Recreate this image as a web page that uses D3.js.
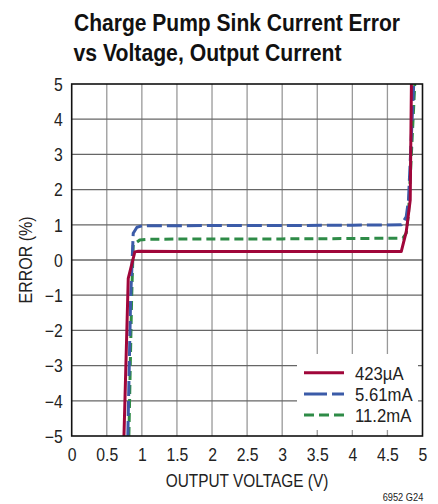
<!DOCTYPE html>
<html lang="en">

<head>
  <meta charset="UTF-8">
  <title>Charge Pump Sink Current Error</title>
  <script src="https://d3js.org/d3.v7.min.js"></script>
  <style>
    html,
    body {
      padding: 0;
      margin: 0;
      background: #fff;
    }

    text {
      font-family: "Liberation Sans Narrow", "Liberation Sans", Arial, sans-serif;
      fill: #222;
    }
  </style>
</head>

<body>
  <script>
    const width = 438;
    const height = 504;

    // curve data
    const series = ["423µA", "5.61mA", "11.2mA"];

    const v423 = [0.745, 0.806, 0.90, 0.95, 1.5, 2.5, 3.5, 4.5, 4.697, 4.768, 4.825, 4.842];
    const e423 = [-5, -0.52, 0.23, 0.25, 0.24, 0.24, 0.24, 0.24, 0.24, 0.80, 1.7, 5];

    const v561 = [0.80, 0.84, 0.877, 0.93, 1.0, 2.0, 3.0, 4.0, 4.70, 4.768, 4.80, 4.875];
    const e561 = [-5, -1.1, 0.76, 0.93, 0.97, 0.98, 0.98, 0.99, 1.0, 1.23, 1.7, 5];

    const v112 = [0.815, 0.854, 0.877, 0.97, 1.1, 2.0, 3.0, 4.0, 4.72, 4.768, 4.80, 4.89];
    const e112 = [-5, -1.1, 0.43, 0.57, 0.59, 0.60, 0.60, 0.61, 0.62, 0.76, 1.3, 5];

    const xTicks = [0, 0.5, 1, 1.5, 2, 2.5, 3, 3.5, 4, 4.5, 5];
    const yTicks = [-5, -4, -3, -2, -1, 0, 1, 2, 3, 4, 5];

    const pl = 71.7, pr = 422.5, pt = 84, pb = 436;

    const x = d3.scaleLinear().domain([0, 5]).range([pl, pr]);
    const y = d3.scaleLinear().domain([-5, 5]).range([pb, pt]);

    const svg = d3.select("body").append("svg")
      .attr("width", width)
      .attr("height", height);

    // title (condensed bold look)
    svg.append("text")
      .attr("x", 74).attr("y", 30.7)
      .attr("font-size", 23).attr("font-weight", "bold")
      .attr("textLength", 326).attr("lengthAdjust", "spacingAndGlyphs")
      .style("fill", "#111")
      .text("Charge Pump Sink Current Error");
    svg.append("text")
      .attr("x", 73.5).attr("y", 60.7)
      .attr("font-size", 23).attr("font-weight", "bold")
      .attr("textLength", 268).attr("lengthAdjust", "spacingAndGlyphs")
      .style("fill", "#111")
      .text("vs Voltage, Output Current");

    // grid
    svg.append("g").selectAll("line")
      .data(xTicks.slice(1, -1))
      .join("line")
      .attr("x1", d => x(d)).attr("x2", d => x(d))
      .attr("y1", pt).attr("y2", pb)
      .attr("stroke", "#999").attr("stroke-width", 1.3);

    svg.append("g").selectAll("line")
      .data(yTicks.slice(1, -1))
      .join("line")
      .attr("x1", pl).attr("x2", pr)
      .attr("y1", d => y(d)).attr("y2", d => y(d))
      .attr("stroke", "#666").attr("stroke-width", 1.3);

    // legend box hides the grid behind it
    svg.append("rect")
      .attr("x", 297).attr("y", 354)
      .attr("width", 121).attr("height", 76)
      .attr("fill", "#fff");

    // tick labels
    const gx = svg.append("g")
      .attr("transform", `translate(0,${pb})`)
      .call(d3.axisBottom(x).tickValues(xTicks).tickSize(0).tickFormat(d3.format("")));
    gx.attr("font-family", null).attr("font-size", null);
    gx.select(".domain").remove();
    gx.selectAll("text")
      .attr("y", 25).attr("dy", null)
      .attr("font-size", 17.5)
      .attr("transform", "scale(0.9,1)")
      .style("fill", "#222");

    const gy = svg.append("g")
      .attr("transform", `translate(${pl - 9},0)`)
      .call(d3.axisLeft(y).tickValues(yTicks).tickSize(0)
        .tickFormat(d => d < 0 ? "\u2212" + Math.abs(d) : String(d)));
    gy.attr("font-family", null).attr("font-size", null);
    gy.select(".domain").remove();
    gy.selectAll("text")
      .attr("x", 0).attr("dy", "0.36em")
      .attr("font-size", 17.5)
      .attr("transform", "scale(0.9,1)")
      .style("fill", "#222");

    svg.append("text")
      .attr("x", 165.7).attr("y", 487)
      .attr("font-size", 18)
      .attr("textLength", 162.6).attr("lengthAdjust", "spacingAndGlyphs")
      .text("OUTPUT VOLTAGE (V)");

    svg.append("text")
      .attr("transform", "translate(32,260) rotate(-90)")
      .attr("x", -43.5)
      .attr("font-size", 18)
      .attr("textLength", 87).attr("lengthAdjust", "spacingAndGlyphs")
      .text("ERROR (%)");

    svg.append("text")
      .attr("x", 382.7).attr("y", 500.5)
      .attr("font-size", 10.5)
      .attr("textLength", 40.6).attr("lengthAdjust", "spacingAndGlyphs")
      .text("6952 G24");

    // curves
    svg.append("clipPath").attr("id", "plot")
      .append("rect")
      .attr("x", pl).attr("y", pt)
      .attr("width", pr - pl).attr("height", pb - pt);

    const line = d3.line()
      .x(d => x(d[0]))
      .y(d => y(d[1]));

    const curves = [
      { name: series[2], v: v112, e: e112, color: "#2e8b47", dash: "9,5" },
      { name: series[1], v: v561, e: e561, color: "#3b5ba8", dash: "15,5" },
      { name: series[0], v: v423, e: e423, color: "#a0063a", dash: null }
    ];

    svg.append("g").attr("clip-path", "url(#plot)")
      .selectAll("path")
      .data(curves)
      .join("path")
      .attr("d", c => line(d3.zip(c.v, c.e)))
      .attr("fill", "none")
      .attr("stroke", c => c.color)
      .attr("stroke-width", 3)
      .attr("stroke-linejoin", "round")
      .attr("stroke-dasharray", c => c.dash);

    // frame
    svg.append("rect")
      .attr("x", pl).attr("y", pt)
      .attr("width", pr - pl).attr("height", pb - pt)
      .attr("fill", "none")
      .attr("stroke", "#111").attr("stroke-width", 1.6);

    // legend
    const legend = [
      { name: series[0], color: "#a0063a", dash: null },
      { name: series[1], color: "#3b5ba8", dash: "23,5" },
      { name: series[2], color: "#2e8b47", dash: "10,5" }
    ];
    const lg = svg.append("g").selectAll("g")
      .data(legend)
      .join("g")
      .attr("transform", (d, i) => `translate(0,${372.7 + i * 21.2})`);
    lg.append("line")
      .attr("x1", 304).attr("x2", 344)
      .attr("stroke", d => d.color)
      .attr("stroke-width", 3)
      .attr("stroke-dasharray", d => d.dash);
    lg.append("text")
      .attr("transform", "translate(355,0) scale(0.88,1)")
      .attr("dy", "0.36em")
      .attr("font-size", 19)
      .text(d => d.name);
  </script>
</body>

</html>
